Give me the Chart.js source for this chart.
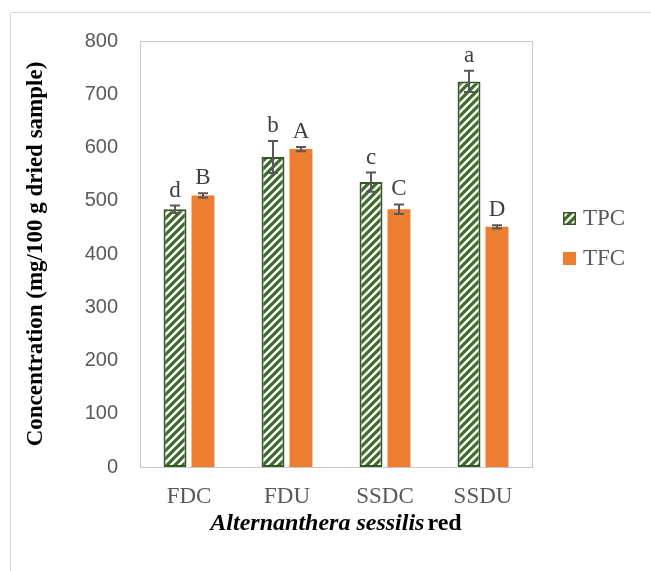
<!DOCTYPE html>
<html>
<head>
<meta charset="utf-8">
<script src="https://cdn.jsdelivr.net/npm/chart.js@4"></script>
<style>
  html, body { margin: 0; padding: 0; background: #fff; }
  canvas { display: block; }
</style>
</head>
<body>
<canvas id="chart" width="651" height="571"></canvas>
<script>
const categories = ["FDC", "FDU", "SSDC", "SSDU"];
const seriesNames = ["TPC", "TFC"];
const tpcValues = [484, 582, 535, 724];
const tpcErrors = [7, 30, 18, 20];
const tfcValues = [510, 597, 484, 451];
const tfcErrors = [4, 4, 9, 3];
const tpcLetters = ["d", "b", "c", "a"];
const tfcLetters = ["B", "A", "C", "D"];
const yTicks = [0, 100, 200, 300, 400, 500, 600, 700, 800];

const serif = "'Liberation Serif', 'Times New Roman', serif";
const sans = "'Liberation Sans', Arial, sans-serif";

function hatch() {
  const c = document.createElement("canvas");
  c.width = 8;
  c.height = 8;
  const g = c.getContext("2d");
  g.fillStyle = "#fff";
  g.fillRect(0, 0, 8, 8);
  g.strokeStyle = "#3f6b2f";
  g.lineWidth = 3.2;
  g.beginPath();
  g.moveTo(-2, 10); g.lineTo(10, -2);
  g.moveTo(-6, 6); g.lineTo(6, -6);
  g.moveTo(2, 14); g.lineTo(14, 2);
  g.stroke();
  return g.createPattern(c, "repeat");
}

const errors = [tpcErrors, tfcErrors];
const letters = [tpcLetters, tfcLetters];

// frame, plot box, error bars, letters, legend, x title
const decor = {
  id: "decor",
  beforeDraw(chart) {
    const { ctx, chartArea: a } = chart;
    ctx.save();
    ctx.strokeStyle = "#d9d9d9";
    ctx.lineWidth = 1;
    ctx.beginPath();
    ctx.moveTo(10.5, 571);
    ctx.lineTo(10.5, 12.5);
    ctx.lineTo(651, 12.5);
    ctx.stroke();
    ctx.strokeStyle = "#c8c8c8";
    ctx.strokeRect(a.left + 0.5, a.top + 0.5, a.right - a.left, a.bottom - a.top);
    ctx.restore();
  },
  afterDatasetsDraw(chart) {
    const { ctx, chartArea: a } = chart;
    const y = chart.scales.y;
    ctx.save();
    chart.data.datasets.forEach((ds, di) => {
      const meta = chart.getDatasetMeta(di);
      meta.data.forEach((bar, i) => {
        const v = ds.data[i];
        const e = errors[di][i];
        const yt = y.getPixelForValue(v + e);
        const yb = y.getPixelForValue(v - e);
        ctx.strokeStyle = "#595959";
        ctx.lineWidth = 2;
        ctx.beginPath();
        ctx.moveTo(bar.x, yt); ctx.lineTo(bar.x, yb);
        ctx.moveTo(bar.x - 5, yt); ctx.lineTo(bar.x + 5, yt);
        ctx.moveTo(bar.x - 5, yb); ctx.lineTo(bar.x + 5, yb);
        ctx.stroke();
        ctx.fillStyle = "#404040";
        ctx.font = "23px " + serif;
        ctx.textAlign = "center";
        ctx.textBaseline = "alphabetic";
        ctx.fillText(letters[di][i], bar.x, yt - 9);
      });
    });

    // legend
    ctx.font = "23px " + serif;
    ctx.textAlign = "left";
    ctx.textBaseline = "middle";
    chart.data.datasets.forEach((ds, di) => {
      const cy = 219 + di * 40;
      const bx = a.right + 31;
      ctx.fillStyle = ds.backgroundColor;
      ctx.fillRect(bx, cy - 7, 13, 13);
      if (ds.borderWidth) {
        ctx.strokeStyle = ds.borderColor;
        ctx.lineWidth = 1.5;
        ctx.strokeRect(bx + 0.75, cy - 6.25, 11.5, 11.5);
      }
      ctx.fillStyle = "#595959";
      ctx.fillText(ds.label, bx + 20, cy);
    });

    // x axis title: italic species name + bold "red"
    const p1 = "Alternanthera sessilis";
    const p2 = "red";
    const f1 = "italic bold 24px " + serif;
    const f2 = "bold 24px " + serif;
    ctx.font = f1;
    const w1 = ctx.measureText(p1).width;
    ctx.font = f2;
    const w2 = ctx.measureText(p2).width;
    const gap = 3;
    const cx = (a.left + a.right) / 2;
    let x0 = cx - (w1 + gap + w2) / 2;
    ctx.fillStyle = "#000";
    ctx.textBaseline = "alphabetic";
    ctx.font = f1;
    ctx.fillText(p1, x0, 530);
    ctx.font = f2;
    ctx.fillText(p2, x0 + w1 + gap, 530);
    ctx.restore();
  },
};

new Chart(document.getElementById("chart"), {
  type: "bar",
  data: {
    labels: categories,
    datasets: [
      {
        label: seriesNames[0],
        data: tpcValues,
        backgroundColor: hatch(),
        borderColor: "#375623",
        borderWidth: 2,
        borderSkipped: false,
      },
      {
        label: seriesNames[1],
        data: tfcValues,
        backgroundColor: "#ed7d31",
        borderWidth: 0,
      },
    ],
  },
  options: {
    responsive: false,
    animation: false,
    devicePixelRatio: 1,
    layout: { padding: { left: 10, top: 41, right: 119, bottom: 0 } },
    datasets: { bar: { categoryPercentage: 0.571, barPercentage: 0.82 } },
    plugins: {
      legend: { display: false },
      tooltip: { enabled: false },
    },
    scales: {
      x: {
        grid: { display: false, drawTicks: false },
        border: { display: false },
        ticks: { color: "#595959", font: { family: serif, size: 23 }, padding: 16 },
        afterFit(s) { s.height = 104; },
      },
      y: {
        min: 0,
        max: 800,
        grid: { display: false, drawTicks: false },
        border: { display: false },
        afterBuildTicks(s) { s.ticks = yTicks.map((v) => ({ value: v })); },
        ticks: { color: "#595959", font: { family: sans, size: 20 }, padding: 22 },
        title: {
          display: true,
          text: "Concentration (mg/100 g dried sample)",
          color: "#000",
          font: { family: serif, size: 23, weight: "bold" },
          padding: { top: 12, bottom: 0 },
        },
        afterFit(s) { s.width = 130; },
      },
    },
  },
  plugins: [decor],
});
</script>
</body>
</html>
